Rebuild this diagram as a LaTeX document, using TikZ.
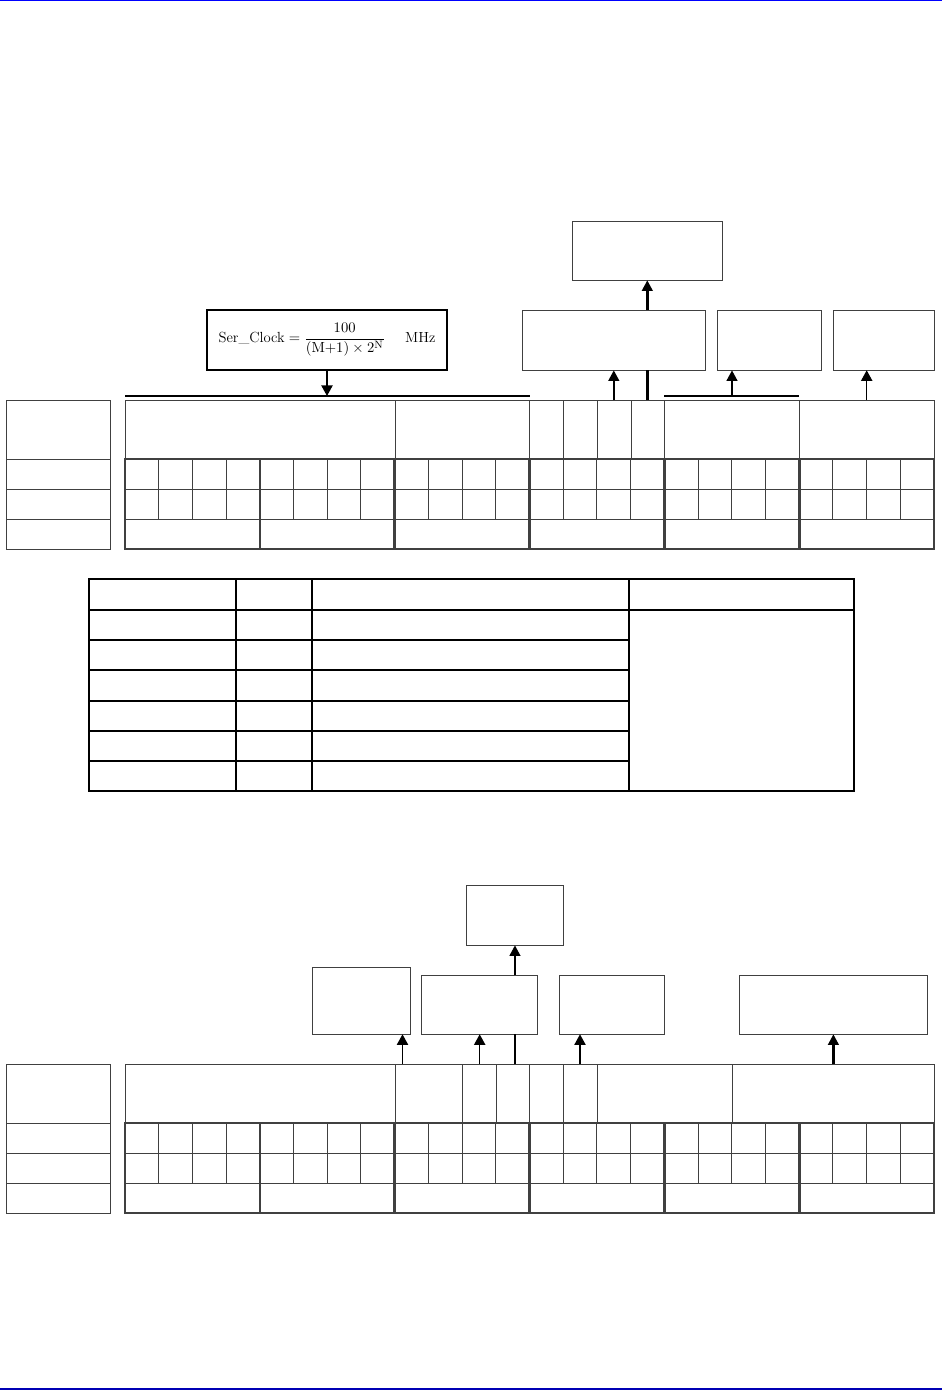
\documentclass[tikz,border=0pt]{standalone}
\usepackage{amsmath}
\usetikzlibrary{arrows.meta}
\definecolor{lg}{HTML}{404040}
\definecolor{topblue}{HTML}{0000FF}
\definecolor{botblue}{HTML}{0000B4}
\tikzset{
  box/.style={draw=lg, line width=0.75pt, rectangle, inner sep=0pt, outer sep=0pt},
  fbox/.style={draw=black, line width=1pt, rectangle, inner sep=0pt, outer sep=0pt},
  gridthin/.style={draw=lg, line width=0.75pt},
  gridthick/.style={draw=lg, line width=2pt},
  bar/.style={draw=black, line width=1.7pt},
  tblline/.style={draw=black, line width=0.9pt},
  arrK/.style={draw=black, line width=1.8pt, -{Triangle[length=8pt,width=8pt]}},
  arrT/.style={draw=black, line width=1pt, -{Triangle[length=8pt,width=8.5pt]}},
  lineK/.style={draw=black, line width=1.8pt},
}
\newcommand\pbox[6][]{\node[box,#1,minimum width={(#4-#2)*0.75pt},minimum height={(#5-#3)*0.75pt}] (#6) at ({(#2+#4)/2},{(#3+#5)/2}) {};}
\newcommand\regtable[1]{%
  % left label column
  \draw[gridthin] (6,#1) rectangle (110,#1+149);
  \foreach \dy in {59,89,119} \draw[gridthin] (6,#1+\dy) -- (110,#1+\dy);
  % bit cells
  \foreach \k in {1,...,23} \draw[gridthin] ({125+\k*33.7083},#1+59) -- ({125+\k*33.7083},#1+119);
  \draw[gridthin] (125,#1+89) -- (934,#1+89);
  \draw[gridthin] (125,#1+119) -- (934,#1+119);
  \foreach \k in {0,4,...,24} \draw[gridthick] ({125+\k*33.7083},#1+59) -- ({125+\k*33.7083},#1+149);
  \draw[gridthick] (125,#1+59) rectangle (934,#1+149);
  % header row
  \draw[gridthin] (125,#1) rectangle (934,#1+59);
}
\begin{document}
\begin{tikzpicture}[x=0.75pt,y=-0.75pt]
\useasboundingbox (0,0) rectangle (942,1390);
\draw[topblue, line width=1.1pt] (0,0.7) -- (942,0.7);
\draw[botblue, line width=0.8pt] (0,1389) -- (942,1389);

% ================= upper register =================
\regtable{400}
\foreach \x in {395,529,563.3,597.7,631.7,664.3,799.3} \draw[gridthin] (\x,400) -- (\x,459);
\coordinate (h1) at (0,400);

\node[fbox, minimum width={240*0.75pt}, minimum height={60*0.75pt}, font=\fontsize{11}{13}\selectfont] (fb) at (327,340)
  {Ser\_Clock${}=\dfrac{100}{(\mathrm{M}{+}1)\times 2^{\mathrm{N}}}$\hspace{15pt}MHz};
\pbox{572.3}{221.3}{722.3}{280.3}{t1}
\pbox{522.3}{310}{705.3}{370.3}{m1}
\pbox{717.3}{310}{821.3}{370.3}{b2}
\pbox{833.3}{310}{934.7}{370.3}{b3}

\coordinate (barA1) at (125,396);
\coordinate (barA2) at (530,396);
\coordinate (barB1) at (664.3,396);
\coordinate (barB2) at (799.3,396);
\draw[bar] (barA1) -- (barA2);
\draw[bar] (barB1) -- (barB2);
\coordinate (barBm) at (732,396);
\coordinate (u866) at (866.7,400);

\draw[arrT] (fb.south) -- (fb.south |- barA1);
\draw[arrK] (m1.south |- h1) -- (m1.south);
\draw[lineK] (t1.south |- h1) -- (t1.south |- m1.south);
\draw[arrK] (t1.south |- m1.north) -- (t1.south);
\draw[arrK] (barBm) -- (barBm |- b2.south);
\draw[arrT] (u866) -- (u866 |- b3.south);

% ================= middle table =================
\draw[tblline] (89,579) rectangle (854,791);
\foreach \x in {236,312,629} \draw[tblline] (\x,579) -- (\x,791);
\draw[tblline] (89,610) -- (854,610);
\foreach \y in {640,670,701,731,761} \draw[tblline] (89,\y) -- (629,\y);

% ================= lower register =================
\regtable{1064}
\foreach \x in {395,462.5,496.7,529.7,563.3,597.7,732.7} \draw[gridthin] (\x,1064) -- (\x,1123);
\coordinate (h2) at (0,1064);

\pbox{466.4}{885.3}{563.5}{945.3}{t2}
\pbox{312.3}{967.3}{410.7}{1034.3}{la}
\pbox{421.7}{975.3}{537.7}{1034.3}{lb}
\pbox{559.8}{975.3}{664.8}{1034.3}{lc}
\pbox{739.8}{975.3}{927}{1034.3}{ld}

\coordinate (v402) at (402.5,1064);
\coordinate (v580) at (580,1064);
\draw[arrT] (v402) -- (v402 |- la.south);
\draw[arrT] (lb.south |- h2) -- (lb.south);
\draw[lineK] (t2.south |- h2) -- (t2.south |- lb.south);
\draw[arrK] (t2.south |- lb.north) -- (t2.south);
\draw[arrT] (v580) -- (v580 |- lc.south);
\draw[arrK] (ld.south |- h2) -- (ld.south);
\end{tikzpicture}
\end{document}
